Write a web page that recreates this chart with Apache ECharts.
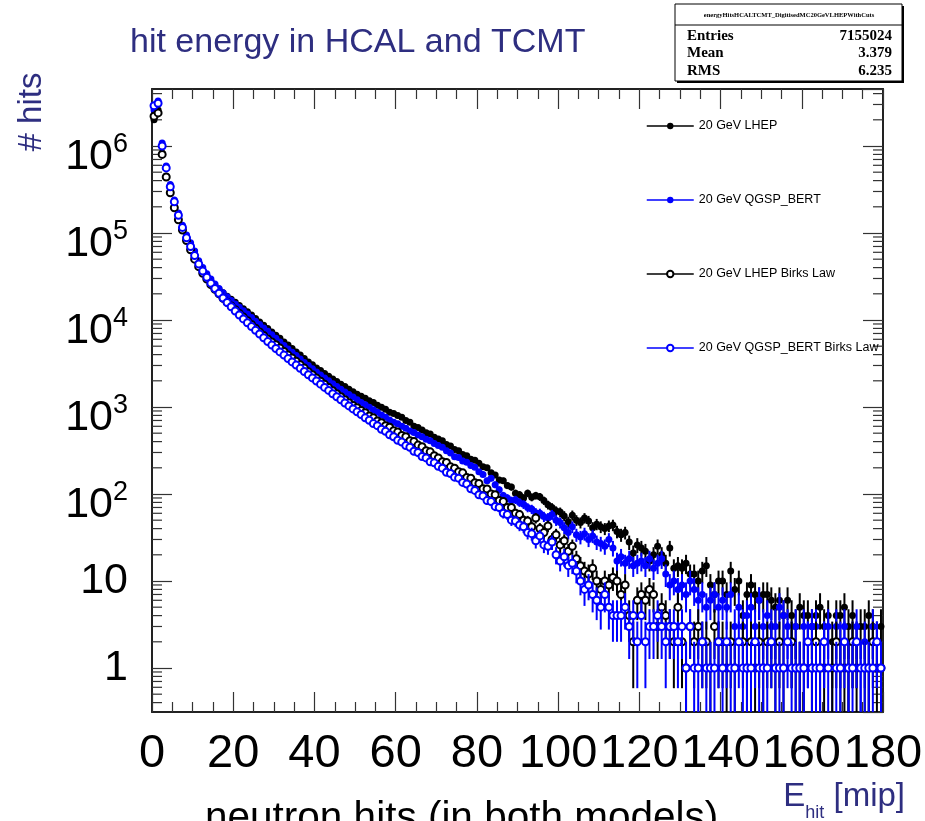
<!DOCTYPE html>
<html><head><meta charset="utf-8">
<script src="https://cdn.jsdelivr.net/npm/echarts@6/dist/echarts.min.js"></script>
<style>html,body{margin:0;padding:0;background:#fff}#c{width:925px;height:821px}</style>
</head><body><div id="c"></div>
<script>
// ---------- data ----------
const seriesNames = ['20 GeV LHEP', '20 GeV QGSP_BERT', '20 GeV LHEP Birks Law', '20 GeV QGSP_BERT Birks Law'];
const binLow = 0, binWidth = 1;          // histogram binning (1 mip bins from 0)
const xTickLabels = [0, 20, 40, 60, 80, 100, 120, 140, 160, 180];
const yTickLabels = [1, 10, 100, 1000, 10000, 100000, 1000000];
const statsTitle = 'energyHitsHCALTCMT_DigitisedMC20GeVLHEPWithCuts';
const statsLabels = ['Entries', 'Mean', 'RMS'];
const statsValues = ['7155024', '3.379', '6.235'];

const lhep = [
2000000,2600000,830000,450000,300000,200000,150000,114000,86000,68000,
53000,44000,37000,32000,28000,25000,22500,20500,18800,17300,
16000,14700,13500,12400,11400,10400,9500,8700,8000,7300,
6700,6150,5600,5150,4700,4300,3950,3600,3300,3050,
2800,2620,2420,2250,2100,1960,1830,1720,1600,1500,
1400,1330,1260,1180,1130,1050,990,940,870,840,
800,760,700,670,600,580,545,505,490,450,
430,410,370,355,325,315,285,275,250,245,
225,205,200,175,165,145,142,125,120,102,
98,90,102,92,96,93,84,75,70,64,
62,56,48,57,50,47,53,49,41,45,
42,40,43,44,37,34,36,28,21,26,
24,22,17,20,25,20,16,24,14,15,
14,16,12,12,10,13,15,9,7,10,
10,7,13,8,10,4,7,9,7,6,
7,7,6,5,6,4,6,4,3,5,
4,4,3,4,5,3,4,2,4,4,
5,3,4,2,3,3,4,3,2,3];

const qgsp = [
2600000,3300000,1080000,590000,360000,240000,170000,123000,95000,77000,
62000,48000,40000,34000,29500,26000,23000,20500,18500,16800,
15300,14000,12800,11700,10700,9700,8900,8100,7400,6750,
6150,5600,5100,4650,4250,3900,3550,3250,3000,2750,
2530,2330,2150,2000,1850,1720,1600,1490,1390,1300,
1210,1130,1060,990,930,870,810,760,710,670,
640,600,570,530,510,475,455,425,410,380,
360,345,315,295,268,262,240,232,212,203,
180,168,142,152,128,112,96,90,84,86,
80,76,70,67,61,60,55,53,58,50,
47,41,36,42,34,32,35,30,33,28,
27,25,30,24,17,19,16,18,15,16,
17,15,18,14,16,18,12,9,10,8,
9,7,10,8,6,7,5,6,7,5,
6,5,7,3,5,3,4,5,3,6,
3,4,3,3,5,4,3,2,3,1,
3,2,3,3,1,2,3,1,3,2,
3,1,2,3,1,2,1,3,2,1];

const lhepBirks = [
2200000,2400000,800000,440000,290000,195000,142000,108000,82000,64000,
50000,41000,34500,29500,25500,22500,20000,17800,16000,14500,
13100,11900,10800,9800,8900,8050,7300,6650,6050,5600,
5200,4750,4350,3950,3650,3350,3050,2800,2550,2350,
2150,1980,1820,1670,1540,1420,1310,1210,1120,1040,
980,910,860,790,750,690,660,610,585,535,
515,470,455,410,400,365,350,315,305,275,
260,235,230,205,198,180,175,155,152,135,
132,115,114,100,98,84,82,70,70,60,
58,50,49,42,53,40,36,43,30,34,
26,29,22,25,18,15,13,12,14,10,
8,10,9,11,10,7,9,4,2,6,
7,6,8,7,3,5,4,3,2,5,
2,1,3,2,3,2,2,1,3,2,
2,1,2,1,0,2,1,2,1,2,
1,2,2,1,2,1,0,2,1,1,
1,0,1,2,1,1,0,1,2,1,
1,1,2,1,0,1,1,2,1,1];

const qgspBirks = [
2900000,3100000,1000000,560000,340000,228000,160000,116000,88000,70000,
55000,44000,36500,31000,26500,23000,20300,17900,15900,14200,
12700,11400,10300,9300,8400,7600,6900,6250,5650,5150,
4700,4300,3950,3600,3300,3030,2780,2560,2350,2160,
1990,1830,1680,1550,1420,1310,1210,1110,1030,950,
880,820,750,705,645,610,555,525,480,455,
415,395,360,345,310,300,270,260,235,228,
208,198,178,172,156,152,136,130,115,110,
98,95,84,82,72,70,60,58,50,49,
44,42,36,35,29,33,26,25,28,20,
17,19,15,16,13,10,8,9,7,6,
5,7,5,4,4,4,5,3,4,2,
4,2,3,3,4,3,2,3,3,2,
3,1,3,1,1,2,1,1,1,2,
1,2,1,1,2,1,1,1,2,1,
1,1,2,1,1,1,2,1,1,1,
1,2,1,1,1,2,1,0,1,1,
2,1,1,2,1,1,1,1,2,1];

// ---------- presentation ----------
const xMin = 0, xMax = 180, yMin = 0.312, yMax = 4.52e6;
const sans = '"Liberation Sans", Arial, Helvetica, sans-serif';
const serif = '"Liberation Serif", "Times New Roman", serif';
const navy = '#2e2e80';
const BLACK = '#000000', BLUE = '#0000ff';
const styles = [
  {color: BLACK, symbol: 'circle'},
  {color: BLUE, symbol: 'circle'},
  {color: BLACK, symbol: 'emptyCircle'},
  {color: BLUE, symbol: 'emptyCircle'}
];
const allValues = [lhep, qgsp, lhepBirks, qgspBirks];

function points(vals) {
  const out = [];
  vals.forEach((v, i) => { if (v > 0) out.push([binLow + (i + 0.5) * binWidth, v]); });
  return out;
}

const series = [];
allValues.forEach((vals, k) => {
  const st = styles[k];
  series.push({
    type: 'custom', name: 'err' + k, coordinateSystem: 'cartesian2d',
    data: points(vals), clip: true, silent: true, z: 2 + 2 * k,
    renderItem: (params, api) => {
      const x = api.value(0), n = api.value(1), e = Math.sqrt(n);
      const lo = Math.max(n - e, yMin), hi = n + e;
      const a = api.coord([x, lo]), b = api.coord([x, hi]);
      const l = api.coord([x - binWidth / 2, n]), r = api.coord([x + binWidth / 2, n]);
      return {type: 'group', children: [
        {type: 'line', shape: {x1: a[0], y1: a[1], x2: b[0], y2: b[1]}, style: {stroke: st.color, lineWidth: 2}},
        {type: 'line', shape: {x1: l[0], y1: l[1], x2: r[0], y2: r[1]}, style: {stroke: st.color, lineWidth: 1.5}}
      ]};
    }
  });
  series.push({
    type: 'line', name: seriesNames[k], data: points(vals),
    symbol: st.symbol, symbolSize: 7, showAllSymbol: true, showSymbol: true,
    lineStyle: {color: st.color, width: 1.5, opacity: 0},
    itemStyle: {color: st.color, borderColor: st.color, borderWidth: st.symbol === 'emptyCircle' ? 1.3 : 0},
    z: 3 + 2 * k, silent: true, clip: true
  });
});

// log minor ticks (2..9 x 10^k) on left & right frame
const minorTickVals = [];
for (let e = -1; e <= 6; e++) for (let m = 2; m <= 9; m++) {
  const v = m * Math.pow(10, e);
  if (v > yMin && v < yMax) minorTickVals.push(v);
}
series.push({
  type: 'custom', coordinateSystem: 'cartesian2d', silent: true, z: 1, clip: false,
  data: minorTickVals.map(v => [xMin, v]),
  renderItem: (params, api) => {
    const v = api.value(1);
    const a = api.coord([xMin, v]), b = api.coord([xMax, v]);
    return {type: 'group', children: [
      {type: 'line', shape: {x1: a[0], y1: a[1], x2: a[0] + 10, y2: a[1]}, style: {stroke: '#333', lineWidth: 1.2}},
      {type: 'line', shape: {x1: b[0], y1: b[1], x2: b[0] - 10, y2: b[1]}, style: {stroke: '#333', lineWidth: 1.2}}
    ]};
  }
});

const axisLineStyle = {show: true, onZero: false, lineStyle: {color: '#222', width: 2}};
const tickStyle = {show: true, inside: true, length: 20, lineStyle: {color: '#333', width: 1.2}};
const minorX = {show: true, splitNumber: 4, length: 10, lineStyle: {color: '#333', width: 1.2}};

const yLabelFmt = v => {
  const lg = Math.log10(v), e = Math.round(lg);
  if (Math.abs(lg - e) > 1e-6 || yTickLabels.indexOf(Math.pow(10, e)) < 0) return '';
  if (e === 0) return '{p|1}';
  if (e === 1) return '{p|10}';
  return '{b|10}{s|' + e + '}';
};

const chart = echarts.init(document.getElementById('c'), null, {renderer: 'canvas'});
chart.setOption({
  animation: false,
  backgroundColor: '#fff',
  grid: {left: 152, top: 89, width: 731, height: 623, outerBoundsMode: 'none', containLabel: false},
  xAxis: [
    {type: 'value', min: xMin, max: xMax, interval: 20, position: 'bottom',
     axisLine: axisLineStyle, axisTick: tickStyle, minorTick: minorX, splitLine: {show: false},
     axisLabel: {fontSize: 47, fontFamily: sans, color: '#000', margin: 19,
       formatter: v => (xTickLabels.indexOf(v) >= 0 ? String(v) : '')}},
    {type: 'value', min: xMin, max: xMax, interval: 20, position: 'top',
     axisLine: axisLineStyle, axisTick: tickStyle, minorTick: minorX, splitLine: {show: false},
     axisLabel: {show: false}}
  ],
  yAxis: [
    {type: 'log', logBase: 10, min: yMin, max: yMax, position: 'left', splitNumber: 7,
     axisLine: axisLineStyle, axisTick: tickStyle, minorTick: {show: false}, splitLine: {show: false},
     axisLabel: {margin: 24, showMinLabel: false, showMaxLabel: false, formatter: yLabelFmt,
       rich: {
         p: {fontSize: 43, fontFamily: sans, color: '#000'},
         b: {fontSize: 43, fontFamily: sans, color: '#000', verticalAlign: 'top', padding: [22, 0, 0, 0]},
         s: {fontSize: 27, fontFamily: sans, color: '#000', verticalAlign: 'top', padding: [18, 0, 0, 0]}
       }}},
    {type: 'log', logBase: 10, min: yMin, max: yMax, position: 'right', splitNumber: 7,
     axisLine: axisLineStyle, axisTick: tickStyle, minorTick: {show: false}, splitLine: {show: false},
     axisLabel: {show: false}}
  ],
  legend: {
    data: seriesNames, orient: 'vertical', left: 641, top: 114,
    itemWidth: 47, itemHeight: 8, itemGap: 60, selectedMode: false,
    lineStyle: {opacity: 1, width: 1.5},
    textStyle: {fontSize: 12.5, lineHeight: 14, fontFamily: sans, color: '#000'}
  },
  graphic: [
    // title
    {type: 'text', x: 130, y: 43, silent: true,
     style: {text: 'hit energy in HCAL and TCMT', font: '34px ' + sans, fill: navy, align: 'left', verticalAlign: 'middle'}},
    // y axis title
    {type: 'text', x: 32, y: 112, rotation: Math.PI / 2, silent: true,
     style: {text: '# hits', font: '33px ' + sans, fill: navy, align: 'center', verticalAlign: 'middle'}},
    // x axis title
    {type: 'text', x: 905, y: 797, silent: true,
     style: {text: '{e|E}{s|hit}{e| [mip]}', align: 'right', verticalAlign: 'middle',
       rich: {e: {fontSize: 33, lineHeight: 33, fontFamily: sans, fill: navy, color: navy},
              s: {fontSize: 18, lineHeight: 18, fontFamily: sans, fill: navy, color: navy, verticalAlign: 'top', padding: [24, 0, 0, 0]}}}},
    // slide text (cut at bottom)
    {type: 'text', x: 205, y: 819, silent: true,
     style: {text: 'neutron hits (in both models)', font: '40.5px ' + sans, fill: '#000', align: 'left', verticalAlign: 'middle'}},
    // stats box
    {type: 'rect', shape: {x: 677, y: 6, width: 227, height: 77}, style: {fill: '#000'}, silent: true},
    {type: 'rect', shape: {x: 675, y: 4, width: 227, height: 77}, style: {fill: '#fff', stroke: '#000', lineWidth: 1}, silent: true},
    {type: 'line', shape: {x1: 675, y1: 25, x2: 902, y2: 25}, style: {stroke: '#000', lineWidth: 1}, silent: true},
    {type: 'text', x: 789, y: 15, silent: true,
     style: {text: statsTitle, font: 'bold 6.5px ' + serif, fill: '#000', align: 'center', verticalAlign: 'middle'}},
    ...statsLabels.map((t, i) => ({type: 'text', x: 687, y: 36 + i * 17.5, silent: true,
      style: {text: t, font: 'bold 15px ' + serif, fill: '#000', align: 'left', verticalAlign: 'middle'}})),
    ...statsValues.map((t, i) => ({type: 'text', x: 892, y: 36 + i * 17.5, silent: true,
      style: {text: t, font: 'bold 15px ' + serif, fill: '#000', align: 'right', verticalAlign: 'middle'}}))
  ],
  series: series
});
</script>
</body></html>
